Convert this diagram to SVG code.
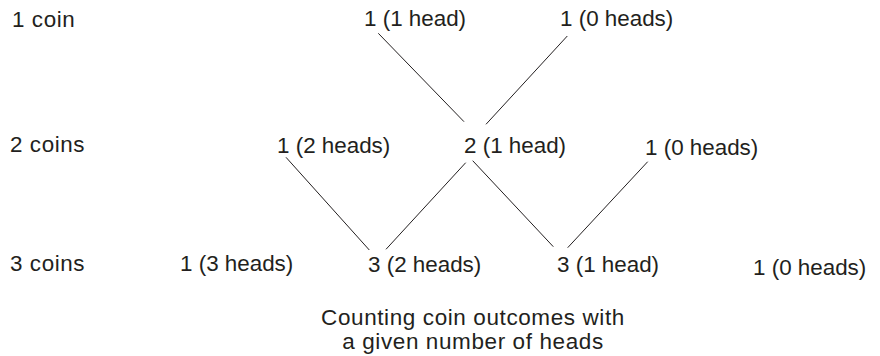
<svg xmlns="http://www.w3.org/2000/svg" width="880" height="356" viewBox="0 0 880 356">
<style>
text{font-family:"Liberation Sans",Arial,Helvetica,sans-serif;font-size:22.4px;fill:#231f20}
.row{letter-spacing:0.6px}
.cap{font-size:22.5px;letter-spacing:0.6px}
line{stroke:#231f20;stroke-width:1}
</style>
<rect width="880" height="356" fill="#fff"/>
<g id="row-labels">
<text class="row" x="12" y="27">1 coin</text>
<text class="row" x="10" y="152">2 coins</text>
<text class="row" x="10" y="271">3 coins</text>
</g>
<g id="n1h"><text x="364" y="26">1 (1 head)</text></g>
<g id="n1t"><text x="560" y="26">1 (0 heads)</text></g>
<g id="n2hh"><text x="277" y="153">1 (2 heads)</text></g>
<g id="n2h"><text x="464" y="153">2 (1 head)</text></g>
<g id="n2t"><text x="645" y="155">1 (0 heads)</text></g>
<g id="n3hhh"><text x="180" y="271">1 (3 heads)</text></g>
<g id="n3hh"><text x="368" y="272">3 (2 heads)</text></g>
<g id="n3h"><text x="557" y="272">3 (1 head)</text></g>
<g id="n3t"><text x="753" y="275">1 (0 heads)</text></g>
<g id="connectors">
<line x1="378.3" y1="33.3" x2="464" y2="121.7"/>
<line x1="567.3" y1="36" x2="486" y2="124.3"/>
<line x1="286" y1="157.3" x2="369.3" y2="250"/>
<line x1="465.7" y1="162.7" x2="386" y2="249.3"/>
<line x1="472.7" y1="160.7" x2="553.3" y2="246.7"/>
<line x1="647.7" y1="161.7" x2="567.7" y2="247.7"/>
</g>
<g id="caption">
<text class="cap" x="473" y="325" text-anchor="middle">Counting coin outcomes with</text>
<text class="cap" x="473" y="349" text-anchor="middle">a given number of heads</text>
</g>
</svg>
